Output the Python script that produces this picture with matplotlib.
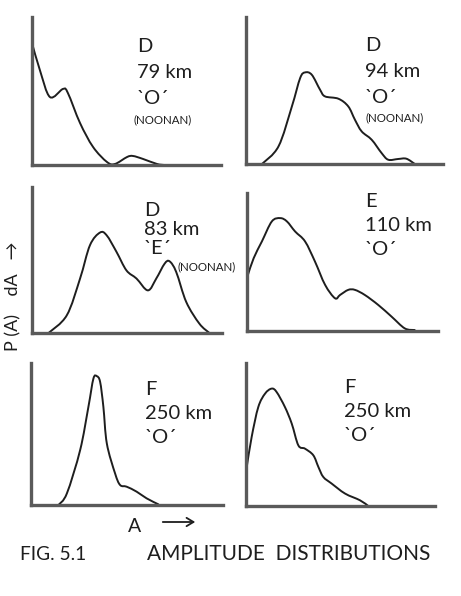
import matplotlib
matplotlib.use("Agg")
import matplotlib.pyplot as plt
from matplotlib.path import Path
from matplotlib.patches import PathPatch, FancyArrowPatch

plt.rcParams['font.family'] = ['Lato', 'DejaVu Sans']

W, H = 461, 596

# curves: amplitude A (0..10 across each panel) and P(A) (0..10 up)
a_d79 = [0, 0.42, 0.95, 1.64, 1.90, 2.54, 3.23, 3.97, 4.39, 5.03, 5.34, 5.87, 6.61, 7.0]
p_d79 = [8.24, 6.4, 4.59, 5.14, 4.86, 2.84, 1.22, 0.2, 0.07, 0.54, 0.61, 0.41, 0.07, 0]

a_d94 = [0.81, 1.65, 2.33, 2.75, 3.0, 3.34, 3.76, 4.01, 4.69, 5.19, 5.53, 5.87, 6.38,
         6.88, 7.22, 7.72, 8.14, 8.57]
p_d94 = [0, 1.20, 3.92, 5.85, 6.23, 6.07, 5.05, 4.60, 4.44, 3.92, 3.01, 2.22, 1.65,
         0.75, 0.29, 0.34, 0.36, 0]

a_d83 = [0.87, 1.83, 2.53, 3.05, 3.58, 3.93, 4.45, 4.97, 5.50, 6.10, 6.54, 6.98, 7.24,
         7.59, 8.12, 8.81, 9.34]
p_d83 = [0, 1.21, 3.73, 6.01, 6.88, 6.69, 5.55, 4.29, 3.73, 2.92, 3.73, 4.75, 4.91,
         4.18, 2.12, 0.64, 0]

a_e110 = [0.05, 0.35, 0.78, 1.30, 1.74, 2.09, 2.52, 3.04, 3.56, 4.09, 4.61, 4.87, 5.30,
          5.65, 6.17, 6.87, 7.57, 8.26, 8.78]
p_e110 = [4.07, 5.28, 6.49, 7.94, 8.18, 7.94, 7.21, 6.49, 5.03, 3.34, 2.37, 2.61, 2.98,
          2.98, 2.61, 1.89, 1.04, 0.19, 0.07]

a_f250a = [1.43, 1.87, 2.56, 2.99, 3.25, 3.43, 3.60, 3.77, 3.95, 4.38, 4.64, 4.98, 5.50,
           6.02, 6.63]
p_f250a = [0, 0.82, 3.87, 6.91, 8.90, 9.07, 8.67, 6.91, 4.33, 2.22, 1.41, 1.29, 0.94,
           0.47, 0.05]

a_f250b = [0.04, 0.30, 0.65, 1.01, 1.36, 1.62, 2.06, 2.42, 2.77, 3.12, 3.56, 3.83, 4.09,
           4.53, 5.24, 6.03, 6.47]
p_f250b = [2.73, 4.83, 6.92, 7.86, 8.21, 7.97, 6.92, 5.76, 4.24, 4.01, 3.55, 2.73, 2.03,
           1.57, 0.87, 0.40, 0]

layers = ['D', 'D', 'D', 'E', 'F', 'F']
heights = ['79 km', '94 km', '83 km', '110 km', '250 km', '250 km']
modes = ['`O´', '`O´', '`E´', '`O´', '`O´', '`O´']
source = ['(NOONAN)', '(NOONAN)', '(NOONAN)', '', '', '']

curves = [(a_d79, p_d79), (a_d94, p_d94), (a_d83, p_d83),
          (a_e110, p_e110), (a_f250a, p_f250a), (a_f250b, p_f250b)]

# panel boxes in pixels: left, top, bottom (baseline), right
boxes = [(32, 17, 165, 221), (246, 17, 164, 443),
         (32, 187, 333, 222), (247, 193, 331, 438),
         (31, 363, 505, 223), (246, 363, 506, 435)]

# label anchor (left x, baseline of first line) and line spacing
labels_at = [(137, 52, 26), (365, 51, 26), (144, 216, 19),
             (365, 207, 24), (145, 395, 24), (344, 393, 24)]
noonan_at = [(133, 123), (365, 121), (177, 270), None, None, None]


def smooth_path(xs, ys):
    # pen-drawn look: Catmull-Rom style bezier through the read points
    pts = list(zip(xs, ys))
    verts = [pts[0]]
    codes = [Path.MOVETO]
    n = len(pts)
    for i in range(n - 1):
        p0 = pts[max(i - 1, 0)]
        p1 = pts[i]
        p2 = pts[i + 1]
        p3 = pts[min(i + 2, n - 1)]
        c1 = (p1[0] + (p2[0] - p0[0]) / 6, p1[1] + (p2[1] - p0[1]) / 6)
        c2 = (p2[0] - (p3[0] - p1[0]) / 6, p2[1] - (p3[1] - p1[1]) / 6)
        verts += [c1, c2, p2]
        codes += [Path.CURVE4] * 3
    return Path(verts, codes)


fig = plt.figure(figsize=(W / 100, H / 100), dpi=100)

axis_col = '#5a5a5a'
ink = '#1e1e1e'
for i in range(6):
    l, t, b, r = boxes[i]
    ax = fig.add_axes([l / W, 1 - b / H, (r - l) / W, (b - t) / H])
    ax.set_xlim(0, 10)
    ax.set_ylim(0, 10)
    ax.add_patch(PathPatch(smooth_path(*curves[i]), facecolor='none', edgecolor=ink,
                           lw=1.4, joinstyle='round', capstyle='round', clip_on=False))
    for s in ['top', 'right']:
        ax.spines[s].set_visible(False)
    for s in ['left', 'bottom']:
        ax.spines[s].set_color(axis_col)
        ax.spines[s].set_linewidth(2.4)
    ax.set_xticks([])
    ax.set_yticks([])
    ax.patch.set_alpha(0)

    x, y, dy = labels_at[i]
    for k, s in enumerate([layers[i], heights[i], modes[i]]):
        fig.text(x / W, 1 - (y + k * dy) / H, s, fontsize=14.5, color=ink,
                 va='baseline', ha='left')
    if noonan_at[i] is not None:
        nx, ny = noonan_at[i]
        fig.text(nx / W, 1 - ny / H, source[i], fontsize=8.3, color=ink,
                 va='baseline', ha='left')

fig.text(13 / W, 1 - 296 / H, 'P (A)    dA   \u2192', rotation=90, fontsize=13,
         color=ink, va='center', ha='center')
fig.text(128 / W, 1 - 532 / H, 'A', fontsize=14, color=ink, va='baseline', ha='left')
fig.patches.append(FancyArrowPatch(
    (160 / W, 1 - 522 / H), (198 / W, 1 - 522 / H), transform=fig.transFigure,
    arrowstyle='->,head_length=5,head_width=3', lw=1.3, color=ink))
fig.text(20 / W, 1 - 560 / H, 'FIG. 5.1', fontsize=13.8, color=ink,
         va='baseline', ha='left')
fig.text(147 / W, 1 - 560 / H, 'AMPLITUDE  DISTRIBUTIONS', fontsize=15,
         color=ink, va='baseline', ha='left')

fig.savefig('out.png', dpi=100, facecolor='white')
